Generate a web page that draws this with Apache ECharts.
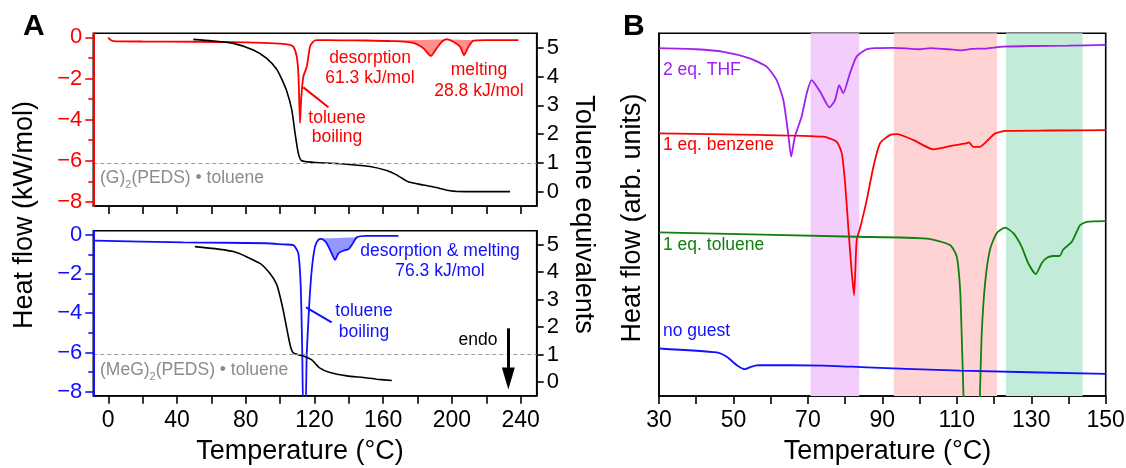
<!DOCTYPE html>
<html>
<head>
<meta charset="utf-8">
<script src="https://cdn.jsdelivr.net/npm/echarts@6/dist/echarts.min.js"></script>
<style>
html,body{margin:0;padding:0;background:#fff;}
#c{width:1126px;height:468px;}
</style>
</head>
<body>
<div id="c"></div>
<script>
// ---------- Panel A, top: (G)2(PEDS)·toluene ----------
const redT = [0, 1, 3, 20, 50, 80, 100, 105, 107.7, 109.7, 110.7, 111.6, 112.2, 113.5, 115.5, 117.4, 119.3, 121.2, 135, 150, 165, 177.5, 183.4, 187.7, 191.1, 194.1, 197.0, 200.8, 204.7, 207.0, 209.6, 212.5, 220, 238.7];
const redV = [0.0, -0.1, -0.18, -0.2, -0.21, -0.24, -0.3, -0.35, -0.45, -0.94, -1.91, -4.17, -3.05, -1.91, -1.43, -0.45, -0.21, -0.13, -0.14, -0.15, -0.18, -0.26, -0.53, -0.9, -0.53, -0.21, -0.09, -0.21, -0.45, -0.86, -0.45, -0.16, -0.13, -0.13];
const redFillT = [165, 177.5, 183.4, 187.7, 191.1, 194.1, 197.0, 200.8, 204.7, 207.0, 209.6, 212.5];
const redFillCurve = [-0.18, -0.26, -0.53, -0.9, -0.53, -0.21, -0.09, -0.21, -0.45, -0.86, -0.45, -0.16];
const redFillBase = [-0.15, -0.13, -0.12, -0.11, -0.10, -0.10, -0.09, -0.10, -0.11, -0.12, -0.13, -0.14];
const eqTopT = [49.5, 60, 72.8, 84.4, 92.2, 98, 101, 103.8, 106.8, 108.7, 110.6, 112.6, 119.3, 138.7, 152.3, 162, 167.8, 174.6, 183.4, 191.1, 198.8, 208.5, 233.8];
const eqTopV = [5.29, 5.24, 5.15, 4.92, 4.63, 4.25, 3.9, 3.5, 2.84, 2.03, 1.33, 1.07, 1.02, 0.95, 0.87, 0.73, 0.58, 0.34, 0.23, 0.14, 0.03, 0.0, 0.0];

// ---------- Panel A, bottom: (MeG)2(PEDS)·toluene ----------
const blueT = [-7.7, 43.6, 92, 101.9, 107.7, 110.6, 112.0, 112.9, 113.5, 114.7, 115.5, 117, 118.4, 120.3, 122.2, 124.2, 127.1, 130, 132, 133.9, 136.8, 139.7, 141.7, 144.6, 150.4, 168.8];
const blueV = [-0.31, -0.39, -0.44, -0.5, -0.53, -0.95, -2.65, -6.03, -9.0, -9.0, -6.03, -3.5, -1.8, -0.61, -0.27, -0.22, -0.44, -0.95, -1.29, -0.95, -0.82, -0.75, -0.53, -0.14, -0.06, -0.06];
const blueFillT = [122.2, 124.2, 127.1, 130, 132, 133.9, 136.8, 139.7, 141.7, 144.6];
const blueFillCurve = [-0.27, -0.22, -0.44, -0.95, -1.29, -0.95, -0.82, -0.75, -0.53, -0.14];
const blueFillBase = [-0.21, -0.20, -0.19, -0.18, -0.17, -0.17, -0.16, -0.15, -0.15, -0.14];
const eqBotT = [50.4, 72.8, 88.3, 94, 98, 100, 102, 104, 106, 107.7, 113.5, 118.4, 123.2, 129, 138.8, 148.4, 156.2, 165];
const eqBotV = [4.92, 4.74, 4.31, 3.95, 3.55, 3.1, 2.55, 1.9, 1.3, 1.06, 0.94, 0.8, 0.5, 0.34, 0.22, 0.16, 0.10, 0.05];

// ---------- Panel A tick labels ----------
const xTicksA = [0, 20, 40, 60, 80, 100, 120, 140, 160, 180, 200, 220, 240];
const xLabelsA = [0, 40, 80, 120, 160, 200, 240];
const yMajorA = [-8, -6, -4, -2, 0];
const yMinorA = [-7, -5, -3, -1];
const eqTicks = [0, 1, 2, 3, 4, 5];

// ---------- Panel B ----------
const thfT = [30, 40, 47.3, 54.4, 58.9, 61.6, 63.4, 64.7, 65.5, 66.5, 68.3, 69.7, 71.0, 73.3, 75.8, 77.3, 78.4, 79.5, 81.3, 83.1, 85.8, 88, 93, 97, 100, 103, 106, 109, 111, 114, 118, 122.5, 130, 140, 150];
const thfV = [95.9, 95.6, 94.9, 93.1, 90.8, 87.1, 81.6, 72.4, 66.0, 71.5, 77.0, 83.5, 87.1, 83.9, 79.6, 81.6, 85.7, 83.5, 89.0, 93.6, 95.6, 95.9, 96.0, 95.8, 95.6, 95.9, 95.7, 95.5, 95.3, 95.7, 95.8, 96.3, 96.5, 96.6, 96.8];
const benT = [30, 56.2, 74.1, 77.7, 79.1, 80.0, 80.9, 81.8, 82.4, 83.1, 84.0, 85.8, 87.6, 89.4, 92.1, 93.9, 98.3, 103.7, 109.1, 112.7, 113.3, 114.4, 116.2, 118.0, 120.3, 123.1, 135, 150];
const benV = [72.4, 72.0, 71.5, 70.1, 66.9, 58.6, 45.8, 33.8, 27.8, 43.0, 46.2, 54.0, 63.2, 69.7, 72.0, 72.2, 70.6, 68.0, 69.1, 69.7, 69.9, 68.7, 68.7, 70.2, 72.4, 73.1, 73.2, 73.3];
const tolT = [30, 83.1, 101.9, 108.2, 110.0, 110.9, 111.3, 111.8, 112.5, 115.5, 116.2, 116.7, 117.6, 118.9, 120.7, 123.0, 125.2, 127.4, 129.2, 131.2, 132.8, 134.2, 135.9, 137.6, 138.6, 140.9, 143.1, 144.9, 150];
const tolV = [45.1, 43.9, 43.4, 41.6, 38.4, 29.2, 17.3, 0, -20, -20, 0, 17.3, 31.1, 40.3, 44.9, 46.4, 44.9, 41.2, 36.6, 33.6, 36.6, 38.1, 38.6, 38.6, 40.4, 42.5, 47.1, 48.0, 48.2];
const noGuestT = [30, 45.5, 48.2, 50.9, 53.1, 54.9, 57.1, 74.1, 85.8, 110.9, 150];
const noGuestV = [13.1, 12.0, 10.8, 8.5, 7.4, 8.1, 8.5, 8.4, 7.9, 7.0, 6.1];
const bandsB = [[70.7, 83.8, '#f3cdfb'], [93.1, 120.8, '#ffd3d3'], [123.2, 143.8, '#c2ebd8']];
const xLabelsB = [30, 50, 70, 90, 110, 130, 150];

const FONT = '"Liberation Sans", Arial, sans-serif';
const pairs = (xs, ys) => xs.map((x, i) => [x, ys[i]]);
const minus = v => String(v).replace('-', '\u2212');

const RED = '#ff0000', BLUE = '#1010ff', BLACK = '#000000';

function gridBox(l, t, w, h) {
  return {left: l, top: t, width: w, height: h, show: true, borderColor: BLACK, borderWidth: 1.6,
    backgroundColor: 'transparent', containLabel: false, outerBoundsMode: 'none'};
}
function xAxisA(gi, showLabels) {
  return {gridIndex: gi, type: 'value', min: -8.7, max: 249.3,
    axisLine: {show: true, onZero: false, lineStyle: {color: BLACK, width: 1.6}},
    axisTick: {show: true, customValues: xTicksA, length: 8, inside: false, lineStyle: {color: BLACK, width: 1.6}},
    axisLabel: {show: showLabels, customValues: xLabelsA, fontSize: 23, color: BLACK, margin: 13, fontFamily: FONT},
    splitLine: {show: false}};
}
function yLeftA(gi, color) {
  return [{gridIndex: gi, type: 'value', min: -8.2, max: 0.2, position: 'left', z: 5,
      axisLine: {show: true, onZero: false, lineStyle: {color: color, width: 1.8}},
      axisTick: {show: true, customValues: yMajorA, length: 8, lineStyle: {color: color, width: 1.6}},
      axisLabel: {show: true, customValues: yMajorA, fontSize: 22, color: color, margin: 11, formatter: minus, fontFamily: FONT},
      splitLine: {show: false}},
    {gridIndex: gi, type: 'value', min: -8.2, max: 0.2, position: 'left', z: 5,
      axisLine: {show: true, onZero: false, lineStyle: {color: color, width: 1.8}},
      axisTick: {show: true, customValues: yMinorA, length: 5, lineStyle: {color: color, width: 1.6}},
      axisLabel: {show: false}, splitLine: {show: false}}];
}
function yRightA(gi) {
  return {gridIndex: gi, type: 'value', min: -0.5, max: 5.5, position: 'right',
    axisLine: {show: true, onZero: false, lineStyle: {color: BLACK, width: 1.6}},
    axisTick: {show: true, customValues: eqTicks, length: 7, lineStyle: {color: BLACK, width: 1.6}},
    axisLabel: {show: true, customValues: eqTicks, fontSize: 22, color: BLACK, margin: 10, fontFamily: FONT},
    splitLine: {show: false}};
}
const lineS = (name, xi, yi, data, color, width, extra) => Object.assign({
  name: name, type: 'line', xAxisIndex: xi, yAxisIndex: yi, data: data, symbol: 'none',
  smooth: 0.2, lineStyle: {color: color, width: width}, itemStyle: {color: color}, z: 3, silent: true, clip: true
}, extra || {});

// shaded integration area between a curve and its baseline, drawn through the axes
function fillS(xi, yi, ts, curve, base, color) {
  return {type: 'custom', xAxisIndex: xi, yAxisIndex: yi, z: 2, silent: true, clip: true,
    data: [[ts[0], curve[0]]], encode: {x: 0, y: 1},
    renderItem: function (params, api) {
      const pts = ts.map((t, i) => api.coord([t, curve[i]]));
      for (let i = ts.length - 1; i >= 0; i--) pts.push(api.coord([ts[i], base[i]]));
      return {type: 'polygon', shape: {points: pts}, style: {fill: color, stroke: null}};
    }};
}

const dashed = {yAxis: 1, lineStyle: {color: '#9a9a9a', type: [4, 3], width: 1.2}};

const option = {
  animation: false,
  textStyle: {fontFamily: FONT},
  grid: [gridBox(93.3, 33.3, 443.4, 172.7), gridBox(93.3, 230.7, 443.4, 165), gridBox(659, 33.3, 446.7, 362.7)],
  xAxis: [
    xAxisA(0, false),
    xAxisA(1, true),
    {gridIndex: 2, type: 'value', min: 30, max: 150, interval: 10,
      axisLine: {show: true, onZero: false, lineStyle: {color: BLACK, width: 1.6}},
      axisTick: {show: true, length: 8, lineStyle: {color: BLACK, width: 1.6}},
      axisLabel: {show: true, customValues: xLabelsB, fontSize: 23, color: BLACK, margin: 13, fontFamily: FONT},
      splitLine: {show: false}}
  ],
  yAxis: [
    ...yLeftA(0, RED), yRightA(0),
    ...yLeftA(1, BLUE), yRightA(1),
    {gridIndex: 2, type: 'value', min: 0, max: 100,
      axisLine: {show: true, onZero: false, lineStyle: {color: BLACK, width: 1.6}},
      axisTick: {show: false}, axisLabel: {show: false}, splitLine: {show: false}}
  ],
  series: [
    // A top
    fillS(0, 0, redFillT, redFillCurve, redFillBase, 'rgba(255,70,70,0.6)'),
    lineS('heat flow G', 0, 0, pairs(redT, redV), RED, 1.8, {
      markLine: {silent: true, symbol: ['none', 'none'], label: {show: false},
        lineStyle: {color: RED, width: 2, type: 'solid'},
        data: [[{coord: [113.5, -2.43]}, {coord: [128.1, -3.40]}]]}}),
    lineS('eq G', 0, 2, pairs(eqTopT, eqTopV), BLACK, 1.6, {
      markLine: {silent: true, symbol: ['none', 'none'], label: {show: false}, data: [dashed]}}),
    // A bottom
    fillS(1, 3, blueFillT, blueFillCurve, blueFillBase, 'rgba(80,80,255,0.6)'),
    lineS('heat flow MeG', 1, 3, pairs(blueT, blueV), BLUE, 1.8, {
      markLine: {silent: true, symbol: ['none', 'none'], label: {show: false},
        lineStyle: {color: BLUE, width: 2, type: 'solid'},
        data: [[{coord: [115.1, -3.70]}, {coord: [130.0, -4.47]}]]}}),
    lineS('eq MeG', 1, 5, pairs(eqBotT, eqBotV), BLACK, 1.6, {
      markLine: {silent: true, symbol: ['none', 'none'], label: {show: false},
        data: [dashed,
          [{coord: [232.8, 1.95], symbol: 'none', lineStyle: {color: BLACK, width: 3, type: 'solid'}},
           {coord: [232.8, 0.13], symbol: 'triangle', symbolSize: [13, 22], symbolRotate: 180}]]}}),
    // B
    {name: 'bands', type: 'line', xAxisIndex: 2, yAxisIndex: 6, data: [], z: 1, silent: true,
      markArea: {silent: true, data: bandsB.map(b => [{xAxis: b[0], itemStyle: {color: b[2]}}, {xAxis: b[1]}])}},
    lineS('2 eq. THF', 2, 6, pairs(thfT, thfV), '#a020f0', 1.8),
    lineS('1 eq. benzene', 2, 6, pairs(benT, benV), RED, 1.8),
    lineS('1 eq. toluene', 2, 6, pairs(tolT, tolV), '#108010', 1.8),
    lineS('no guest', 2, 6, pairs(noGuestT, noGuestV), BLUE, 1.8)
  ],
  graphic: []
};

function txt(text, x, y, opts) {
  opts = opts || {};
  return {type: 'text', x: x, y: y, rotation: opts.rot || 0, z: 100, silent: true,
    style: {text: text, fill: opts.color || BLACK, fontSize: opts.size || 17.5, fontFamily: FONT,
      fontWeight: opts.bold ? 'bold' : 'normal', align: opts.align || 'center', verticalAlign: 'middle',
      rich: opts.rich}};
}
const sub = (color) => ({a: {fontSize: 17.5, fill: color, lineHeight: 24, verticalAlign: 'middle', fontFamily: FONT},
  s: {fontSize: 11, fill: color, lineHeight: 11, verticalAlign: 'bottom', fontFamily: FONT}});

option.graphic = [
  txt('A', 23, 27, {size: 30, bold: true, align: 'left'}),
  txt('B', 623, 27, {size: 30, bold: true, align: 'left'}),
  txt('Heat flow (kW/mol)', 25, 215, {size: 27, rot: Math.PI / 2}),
  txt('Toluene equivalents', 583.5, 214.5, {size: 27, rot: -Math.PI / 2}),
  txt('Temperature (\u00b0C)', 300, 452, {size: 27}),
  txt('Heat flow (arb. units)', 632.5, 218, {size: 27, rot: Math.PI / 2}),
  txt('Temperature (\u00b0C)', 887.5, 452, {size: 27}),
  // A top annotations
  txt('desorption', 370, 58, {color: RED}),
  txt('61.3 kJ/mol', 370, 78, {color: RED}),
  txt('melting', 479, 70, {color: RED}),
  txt('28.8 kJ/mol', 479, 91.5, {color: RED}),
  txt('toluene', 337, 118, {color: RED}),
  txt('boiling', 337, 137.5, {color: RED}),
  txt('{a|(G)}{s|2}{a|(PEDS) \u2022 toluene}', 100, 178, {color: '#8c8c8c', align: 'left', rich: sub('#8c8c8c')}),
  // A bottom annotations
  txt('desorption & melting', 440, 251, {color: BLUE}),
  txt('76.3 kJ/mol', 440, 271, {color: BLUE}),
  txt('toluene', 364, 311.5, {color: BLUE}),
  txt('boiling', 364, 332, {color: BLUE}),
  txt('endo', 478, 340, {color: BLACK}),
  txt('{a|(MeG)}{s|2}{a|(PEDS) \u2022 toluene}', 100, 370, {color: '#8c8c8c', align: 'left', rich: sub('#8c8c8c')}),
  // B labels
  txt('2 eq. THF', 663, 70, {color: '#a020f0', align: 'left'}),
  txt('1 eq. benzene', 663, 145.5, {color: RED, align: 'left'}),
  txt('1 eq. toluene', 663, 245.5, {color: '#108010', align: 'left'}),
  txt('no guest', 663, 331.5, {color: BLUE, align: 'left'})
];

const chart = echarts.init(document.getElementById('c'), null, {renderer: 'canvas'});
chart.setOption(option);
</script>
</body>
</html>
